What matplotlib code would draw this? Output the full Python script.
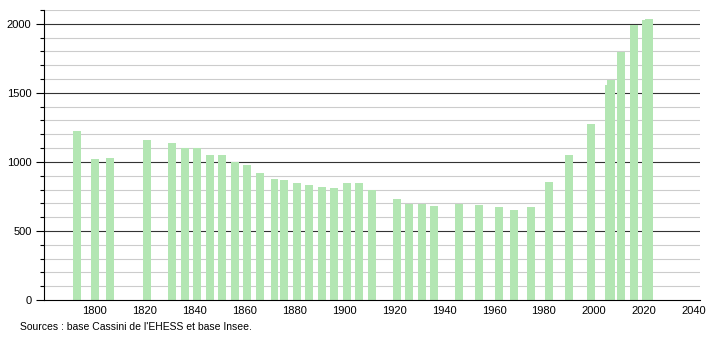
import matplotlib.pyplot as plt
import numpy as np

plt.rcParams['font.family'] = ['Liberation Sans', 'DejaVu Sans']

# census years and population
years = [1793, 1800, 1806, 1821, 1831, 1836, 1841, 1846, 1851, 1856,
         1861, 1866, 1872, 1876, 1881, 1886, 1891, 1896, 1901, 1906,
         1911, 1921, 1926, 1931, 1936, 1946, 1954, 1962, 1968, 1975,
         1982, 1990, 1999, 2006, 2007, 2011, 2016, 2021, 2022]
population = [1225, 1022, 1031, 1159, 1140, 1104, 1104, 1048, 1053, 1000,
              980, 922, 877, 870, 848, 833, 816, 812, 848, 848,
              795, 730, 696, 696, 681, 696, 691, 672, 652, 674,
              855, 1051, 1275, 1556, 1594, 1795, 1988, 2024, 2034]
x_ticks = list(range(1800, 2041, 20))
source = "Sources : base Cassini de l'EHESS et base Insee."

fig = plt.figure(figsize=(7.1, 3.4), dpi=100)
ax = fig.add_axes([0.062, 0.1176, 0.924, 0.853])

# grid lines
for v in range(100, 2101, 100):
    if v % 500 == 0:
        ax.axhline(v, color="#333333", lw=0.8, zorder=1)
    else:
        ax.axhline(v, color="#cccccc", lw=0.8, zorder=1)

ax.bar(years, population, width=3.2, color="#b3e6b3", zorder=2)

ax.set_xlim(1779.6, 2042.6)
ax.set_ylim(0, 2100)
ax.set_xticks(x_ticks)
ax.set_yticks([0, 500, 1000, 1500, 2000])
ax.set_yticks(range(0, 2101, 100), minor=True)
ax.tick_params(axis="y", which="major", length=6, width=0.8, labelsize=8, pad=3)
ax.tick_params(axis="y", which="minor", length=3, width=0.8)
ax.tick_params(axis="x", length=0, labelsize=8, pad=4)
for s in ["top", "right"]:
    ax.spines[s].set_visible(False)
ax.spines["left"].set_linewidth(0.8)
ax.spines["bottom"].set_linewidth(0.8)

fig.text(0.028, 0.038, source, fontsize=7.5, ha="left", va="center")

fig.savefig("out.png", dpi=100)
